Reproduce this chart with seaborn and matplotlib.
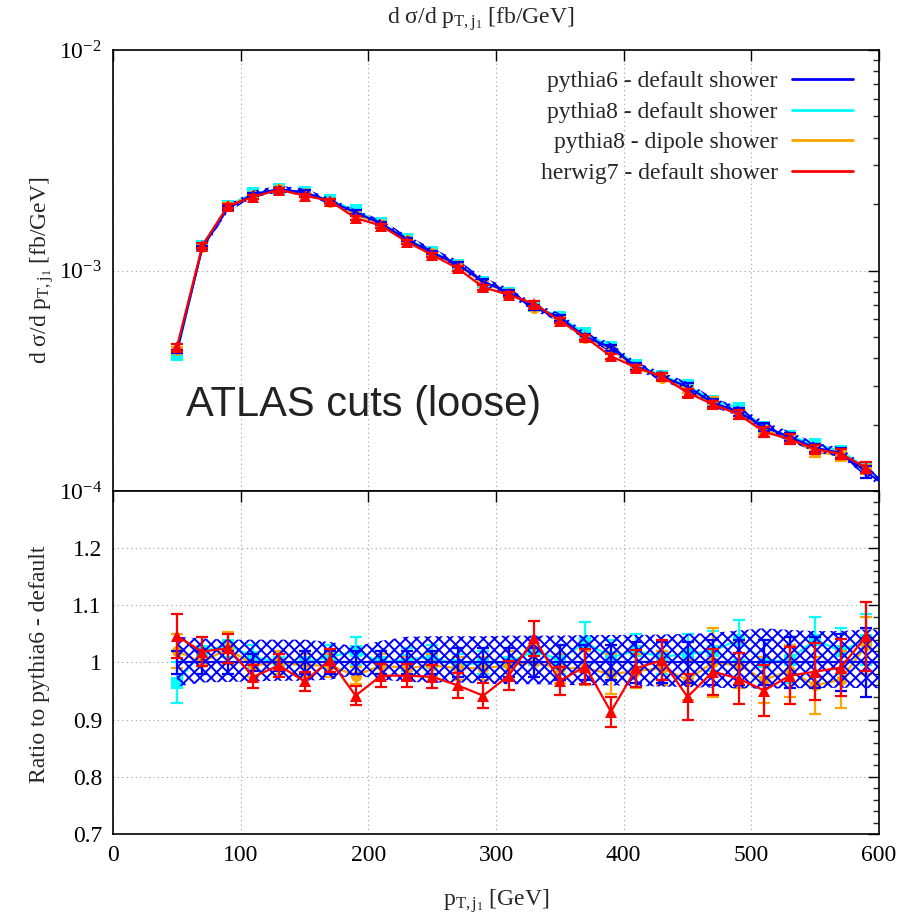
import numpy as np
import pandas as pd
import matplotlib
matplotlib.use("Agg")
import matplotlib.pyplot as plt
from matplotlib.lines import Line2D
from matplotlib.ticker import MultipleLocator, NullFormatter, LogLocator
import seaborn as sns

# ---------------- data ----------------
pt = [50, 70, 90, 110, 130, 150, 170, 190, 210, 230, 250, 270, 290, 310,
      330, 350, 370, 390, 410, 430, 450, 470, 490, 510, 530, 550, 570, 590]

# pythia6 default shower differential cross section [fb/GeV]
xs_p6 = [4.29e-4, 1.272e-3, 1.913e-3, 2.216e-3, 2.335e-3, 2.262e-3, 2.059e-3,
         1.835e-3, 1.635e-3, 1.383e-3, 1.207e-3, 1.065e-3, 8.91e-4, 7.94e-4,
         6.79e-4, 6.11e-4, 5.01e-4, 4.47e-4, 3.66e-4, 3.30e-4, 2.97e-4,
         2.51e-4, 2.29e-4, 1.95e-4, 1.76e-4, 1.57e-4, 1.49e-4, 1.22e-4]
# curve / band end point at the right edge
pt_edge = 600
xs_p6_edge = 1.11e-4

# ratio to pythia6 default
ratio_p6 = [1.0] * 28
err_p6 = [0.02, 0.02, 0.02, 0.015, 0.015, 0.02, 0.02, 0.02, 0.02, 0.02, 0.02,
          0.025, 0.025, 0.025, 0.025, 0.03, 0.03, 0.03, 0.035, 0.035, 0.035,
          0.04, 0.04, 0.04, 0.045, 0.045, 0.05, 0.06]

ratio_p8 = [0.965, 1.02, 1.03, 1.01, 1.0, 1.0, 1.01, 1.02, 1.0, 1.005, 1.01,
            0.995, 1.0, 1.0, 1.02, 1.005, 1.035, 1.01, 1.02, 1.01, 1.015,
            1.02, 1.04, 1.0, 1.005, 1.04, 1.02, 1.04]
err_p8 = [0.035, 0.025, 0.02, 0.02, 0.02, 0.02, 0.02, 0.025, 0.02, 0.02, 0.02,
          0.02, 0.02, 0.025, 0.025, 0.025, 0.035, 0.03, 0.03, 0.03, 0.035,
          0.035, 0.035, 0.04, 0.04, 0.04, 0.04, 0.045]

ratio_dip = [1.02, 1.0, 1.025, 0.995, 1.0, 0.995, 0.995, 0.977, 0.995, 0.99,
             0.995, 0.99, 0.99, 0.995, 1.0, 0.99, 0.99, 0.98, 0.985, 0.99,
             0.97, 1.0, 0.995, 0.97, 0.985, 0.96, 0.97, 1.03]
err_dip = [0.03, 0.02, 0.028, 0.02, 0.02, 0.02, 0.02, 0.015, 0.02, 0.02, 0.02,
           0.02, 0.02, 0.025, 0.025, 0.025, 0.03, 0.035, 0.03, 0.03, 0.035,
           0.06, 0.04, 0.04, 0.045, 0.05, 0.05, 0.05]

ratio_hw7 = [1.046, 1.019, 1.025, 0.975, 0.995, 0.967, 1.004, 0.942, 0.977,
             0.977, 0.975, 0.960, 0.942, 0.977, 1.042, 0.968, 0.993, 0.914,
             0.990, 1.004, 0.940, 0.984, 0.972, 0.951, 0.977, 0.984, 0.991,
             1.046]
err_hw7 = [0.038, 0.025, 0.025, 0.02, 0.02, 0.017, 0.02, 0.017, 0.02, 0.02,
           0.02, 0.022, 0.022, 0.025, 0.03, 0.025, 0.03, 0.026, 0.032, 0.035,
           0.04, 0.04, 0.045, 0.045, 0.05, 0.05, 0.05, 0.06]

# scale-uncertainty band of pythia6 (as ratio), last entry at x = 600
band_hi = [1.045, 1.042, 1.040, 1.040, 1.040, 1.040, 1.036, 1.028, 1.038,
           1.045, 1.046, 1.046, 1.046, 1.047, 1.047, 1.047, 1.048, 1.048,
           1.048, 1.049, 1.050, 1.052, 1.056, 1.060, 1.057, 1.055, 1.055,
           1.058, 1.058]
band_lo = [0.958, 0.965, 0.966, 0.967, 0.968, 0.968, 0.970, 0.978, 0.970,
           0.966, 0.965, 0.965, 0.963, 0.962, 0.962, 0.961, 0.960, 0.960,
           0.959, 0.958, 0.957, 0.956, 0.955, 0.954, 0.955, 0.955, 0.956,
           0.955, 0.955]

labels = ["pythia6 - default shower", "pythia8 - default shower",
          "pythia8 - dipole shower", "herwig7 - default shower"]
colors = ["#0000ff", "#00ffff", "#ffa500", "#ff0000"]
markers = [None, "s", "o", "^"]

title_text = "d σ/d p$_{\\mathrm{T,j_1}}$ [fb/GeV]"
ylab_top = "d σ/d p$_{\\mathrm{T,j_1}}$ [fb/GeV]"
ylab_bot = "Ratio to pythia6 - default"
xlab = "p$_{\\mathrm{T,j_1}}$ [GeV]"
annot = "ATLAS cuts (loose)"

# ---------------- style ----------------
sns.set_theme(style="white")
plt.rcParams["font.family"] = ["Liberation Serif", "DejaVu Serif"]
plt.rcParams["mathtext.fontset"] = "custom"
plt.rcParams["mathtext.rm"] = "Liberation Serif"
plt.rcParams["mathtext.it"] = "Liberation Serif:italic"
plt.rcParams["mathtext.bf"] = "Liberation Serif:bold"
plt.rcParams["hatch.linewidth"] = 1.4
plt.rcParams["axes.linewidth"] = 1.2

FS = 17
W, H = 902, 919
fig = plt.figure(figsize=(W / 100, H / 100), dpi=100)
L, R = 113 / W, 879 / W
ax1 = fig.add_axes([L, 1 - 491 / H, R - L, (491 - 50) / H])
ax2 = fig.add_axes([L, 1 - 834 / H, R - L, (834 - 491) / H])

pt_arr = np.array(pt, dtype=float)
p6 = np.array(xs_p6)
band_x = np.array(pt + [pt_edge], dtype=float)
band_c = np.array(xs_p6 + [xs_p6_edge])

ratios = [np.array(ratio_p6), np.array(ratio_p8), np.array(ratio_dip), np.array(ratio_hw7)]
errs = [np.array(err_p6), np.array(err_p8), np.array(err_dip), np.array(err_hw7)]

lw = 1.6
cap = 4.5
msz = [0, 8, 8, 9]
for ax, top in [(ax1, True), (ax2, False)]:
    if top:
        lo = band_c * np.array(band_lo)
        hi = band_c * np.array(band_hi)
    else:
        lo = np.array(band_lo)
        hi = np.array(band_hi)
    for i in [1, 2]:
        y = p6 * ratios[i] if top else ratios[i]
        e = p6 * errs[i] if top else errs[i]
        df = pd.DataFrame({"x": pt_arr, "y": y})
        sns.lineplot(data=df, x="x", y="y", ax=ax, color=colors[i], lw=lw,
                     marker=markers[i], markersize=msz[i], markeredgewidth=0,
                     zorder=3, legend=False)
        ax.errorbar(pt_arr, y, yerr=e, fmt="none", ecolor=colors[i],
                    elinewidth=1.6, capsize=cap, capthick=1.6, zorder=3)
    ax.fill_between(band_x, lo, hi, facecolor="none", edgecolor="#0000ff",
                    hatch="xxx", linewidth=0, zorder=4)
    yb = band_c if top else np.array(ratio_p6 + [1.0])
    dfb = pd.DataFrame({"x": band_x, "y": yb})
    sns.lineplot(data=dfb, x="x", y="y", ax=ax, color=colors[0], lw=lw,
                 zorder=5, legend=False)
    eb = p6 * errs[0] if top else errs[0]
    ax.errorbar(pt_arr, p6 if top else ratios[0], yerr=eb, fmt="none",
                ecolor=colors[0], elinewidth=1.6, capsize=cap, capthick=1.6, zorder=5)
    y = p6 * ratios[3] if top else ratios[3]
    e = p6 * errs[3] if top else errs[3]
    df = pd.DataFrame({"x": pt_arr, "y": y})
    sns.lineplot(data=df, x="x", y="y", ax=ax, color=colors[3], lw=lw,
                 marker=markers[3], markersize=msz[3], markeredgewidth=0,
                 zorder=6, legend=False)
    ax.errorbar(pt_arr, y, yerr=e, fmt="none", ecolor=colors[3],
                elinewidth=1.6, capsize=cap, capthick=1.6, zorder=6)

    ax.set_xlim(0, 600)
    ax.xaxis.set_major_locator(MultipleLocator(100))
    ax.grid(True, which="major", color="#a0a0a0", linestyle=(0, (1, 3)), linewidth=0.8)
    ax.set_xlabel("")
    ax.set_ylabel("")
    for s in ax.spines.values():
        s.set_color("black")
        s.set_linewidth(1.2)
    ax.tick_params(axis="both", which="major", direction="in", length=8,
                   width=1.0, top=True, right=True, labelsize=FS, colors="black",
                   pad=8)
    ax.tick_params(axis="both", which="minor", direction="in", length=4,
                   width=1.0, top=True, right=True)

# top panel axes
ax1.set_yscale("log")
ax1.set_ylim(1e-4, 1e-2)
ax1.yaxis.set_major_locator(LogLocator(base=10, numticks=10))
ax1.yaxis.set_minor_locator(LogLocator(base=10, subs=np.arange(2, 10), numticks=10))
ax1.yaxis.set_minor_formatter(NullFormatter())
ax1.tick_params(axis="x", labelbottom=False)
ax1.tick_params(axis="x", which="minor", bottom=False, top=False)

# bottom panel axes
ax2.set_ylim(0.7, 1.3)
ax2.yaxis.set_minor_locator(MultipleLocator(0.02))
ax2.set_yticks([0.7, 0.8, 0.9, 1.0, 1.1, 1.2])
ax2.set_yticklabels(["0.7", "0.8", "0.9", "1", "1.1", "1.2"])
ax2.tick_params(axis="y", which="minor", left=False, right=True)
ax2.tick_params(axis="x", which="minor", bottom=False, top=False)

# legend
handles = [Line2D([0], [0], color=c, lw=2) for c in colors]
leg = ax1.legend(handles, labels, loc="upper right", frameon=False,
                 markerfirst=False, fontsize=FS, handlelength=2.6,
                 handletextpad=0.6, labelspacing=0.38,
                 bbox_to_anchor=(0.985, 0.985), borderaxespad=0.2)

ax1.text(0.095, 0.195, annot, transform=ax1.transAxes, fontsize=30,
         family=["Liberation Sans", "DejaVu Sans"], color="#222222",
         va="center", ha="left")

fig.text(481 / W, 1 - 19 / H, title_text, ha="center", va="center", fontsize=FS)
fig.text(42 / W, 1 - 270 / H, ylab_top, ha="center", va="center",
         rotation=90, fontsize=FS)
fig.text(40 / W, 1 - 664 / H, ylab_bot, ha="center", va="center",
         rotation=90, fontsize=FS)
fig.text(496 / W, 1 - 901 / H, xlab, ha="center", va="center", fontsize=FS)

fig.savefig("out.png", dpi=100)
